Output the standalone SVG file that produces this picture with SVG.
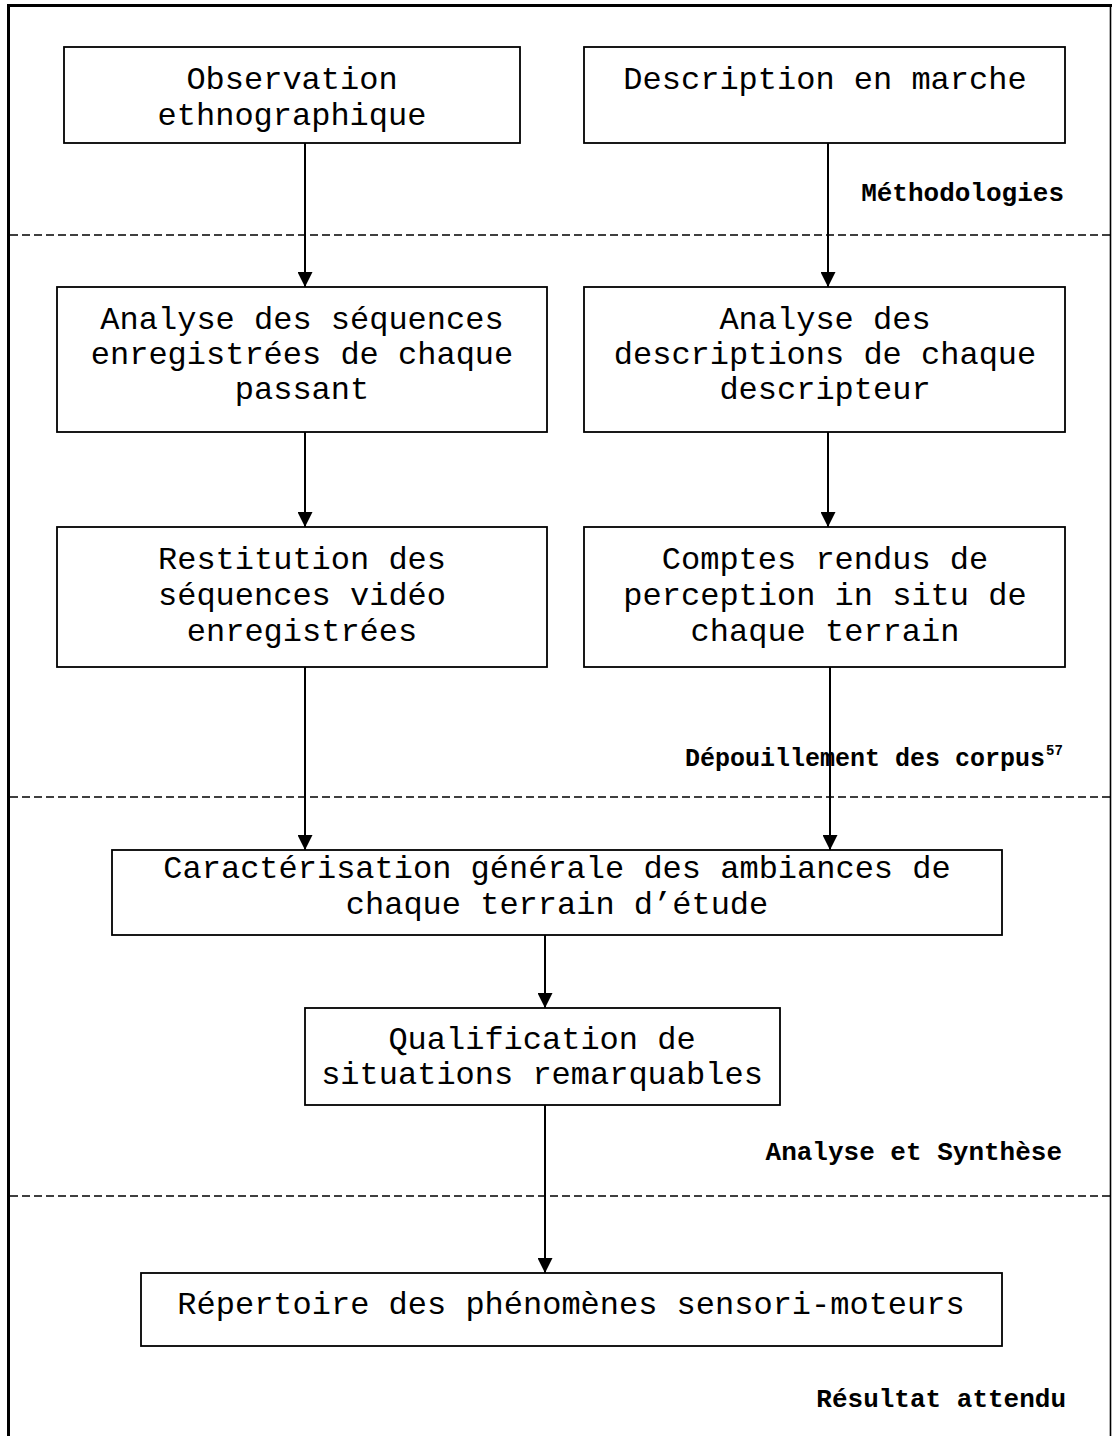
<svg xmlns="http://www.w3.org/2000/svg" width="1112" height="1436" viewBox="0 0 1112 1436">
<style>
.box{fill:#fff;stroke:#000;stroke-width:1.8}
.t{font-family:"Liberation Mono","Courier New",monospace;font-size:32px;fill:#000;text-anchor:middle}
.lbl{font-family:"Liberation Mono","Courier New",monospace;font-size:26px;font-weight:bold;fill:#000;text-anchor:end}
.dash{stroke:#000;stroke-width:1.6;stroke-dasharray:8 4;fill:none}
.arr{stroke:#000;stroke-width:2;fill:none;marker-end:url(#ah)}
</style>
<defs>
<marker id="ah" markerWidth="15" markerHeight="15" refX="15" refY="7.5" orient="auto" markerUnits="userSpaceOnUse">
<path d="M0,0 L15,7.5 L0,15 Z" fill="#000"/>
</marker>
</defs>
<rect x="0" y="0" width="1112" height="1436" fill="#fff"/>
<g id="frame">
<line x1="8.5" y1="4" x2="8.5" y2="1436" stroke="#000" stroke-width="3"/>
<line x1="7" y1="5.5" x2="1112" y2="5.5" stroke="#000" stroke-width="3"/>
<line x1="1110.5" y1="4" x2="1110.5" y2="1436" stroke="#000" stroke-width="1.6"/>
</g>
<g id="separators">
<line class="dash" x1="10" y1="235" x2="1110" y2="235"/>
<line class="dash" x1="10" y1="797" x2="1110" y2="797"/>
<line class="dash" x1="10" y1="1196" x2="1110" y2="1196"/>
</g>
<g id="labels">
<text class="lbl" x="1064" y="201">Méthodologies</text>
<text class="lbl" x="1045" y="766" style="font-size:25px">Dépouillement des corpus</text>
<text x="1046" y="755" font-family="Liberation Mono, monospace" font-size="14" font-weight="bold">57</text>
<text class="lbl" x="1062" y="1160">Analyse et Synthèse</text>
<text class="lbl" x="1066" y="1407">Résultat attendu</text>
</g>
<g id="connectors">
<line class="arr" x1="305" y1="143" x2="305" y2="287"/>
<line class="arr" x1="828" y1="143" x2="828" y2="287"/>
<line class="arr" x1="305" y1="432" x2="305" y2="527"/>
<line class="arr" x1="828" y1="432" x2="828" y2="527"/>
<line class="arr" x1="305" y1="667" x2="305" y2="850"/>
<line class="arr" x1="830" y1="667" x2="830" y2="850"/>
<line class="arr" x1="545" y1="935" x2="545" y2="1008"/>
<line class="arr" x1="545" y1="1105" x2="545" y2="1273"/>
</g>
<g id="n1">
<rect class="box" x="64" y="47" width="456" height="96"/>
<text class="t" x="292" y="89">Observation</text>
<text class="t" x="292" y="125">ethnographique</text>
</g>
<g id="n2">
<rect class="box" x="584" y="47" width="481" height="96"/>
<text class="t" x="825" y="89">Description en marche</text>
</g>
<g id="n3">
<rect class="box" x="57" y="287" width="490" height="145"/>
<text class="t" x="302" y="329">Analyse des séquences</text>
<text class="t" x="302" y="364">enregistrées de chaque</text>
<text class="t" x="302" y="399">passant</text>
</g>
<g id="n4">
<rect class="box" x="584" y="287" width="481" height="145"/>
<text class="t" x="825" y="329">Analyse des</text>
<text class="t" x="825" y="364">descriptions de chaque</text>
<text class="t" x="825" y="399">descripteur</text>
</g>
<g id="n5">
<rect class="box" x="57" y="527" width="490" height="140"/>
<text class="t" x="302" y="569">Restitution des</text>
<text class="t" x="302" y="605">séquences vidéo</text>
<text class="t" x="302" y="641">enregistrées</text>
</g>
<g id="n6">
<rect class="box" x="584" y="527" width="481" height="140"/>
<text class="t" x="825" y="569">Comptes rendus de</text>
<text class="t" x="825" y="605">perception in situ de</text>
<text class="t" x="825" y="641">chaque terrain</text>
</g>
<g id="n7">
<rect class="box" x="112" y="850" width="890" height="85"/>
<text class="t" x="557" y="878">Caractérisation générale des ambiances de</text>
<text class="t" x="557" y="914">chaque terrain d’étude</text>
</g>
<g id="n8">
<rect class="box" x="305" y="1008" width="475" height="97"/>
<text class="t" x="542" y="1049">Qualification de</text>
<text class="t" x="542" y="1084">situations remarquables</text>
</g>
<g id="n9">
<rect class="box" x="141" y="1273" width="861" height="73"/>
<text class="t" x="571" y="1314">Répertoire des phénomènes sensori-moteurs</text>
</g>
</svg>
